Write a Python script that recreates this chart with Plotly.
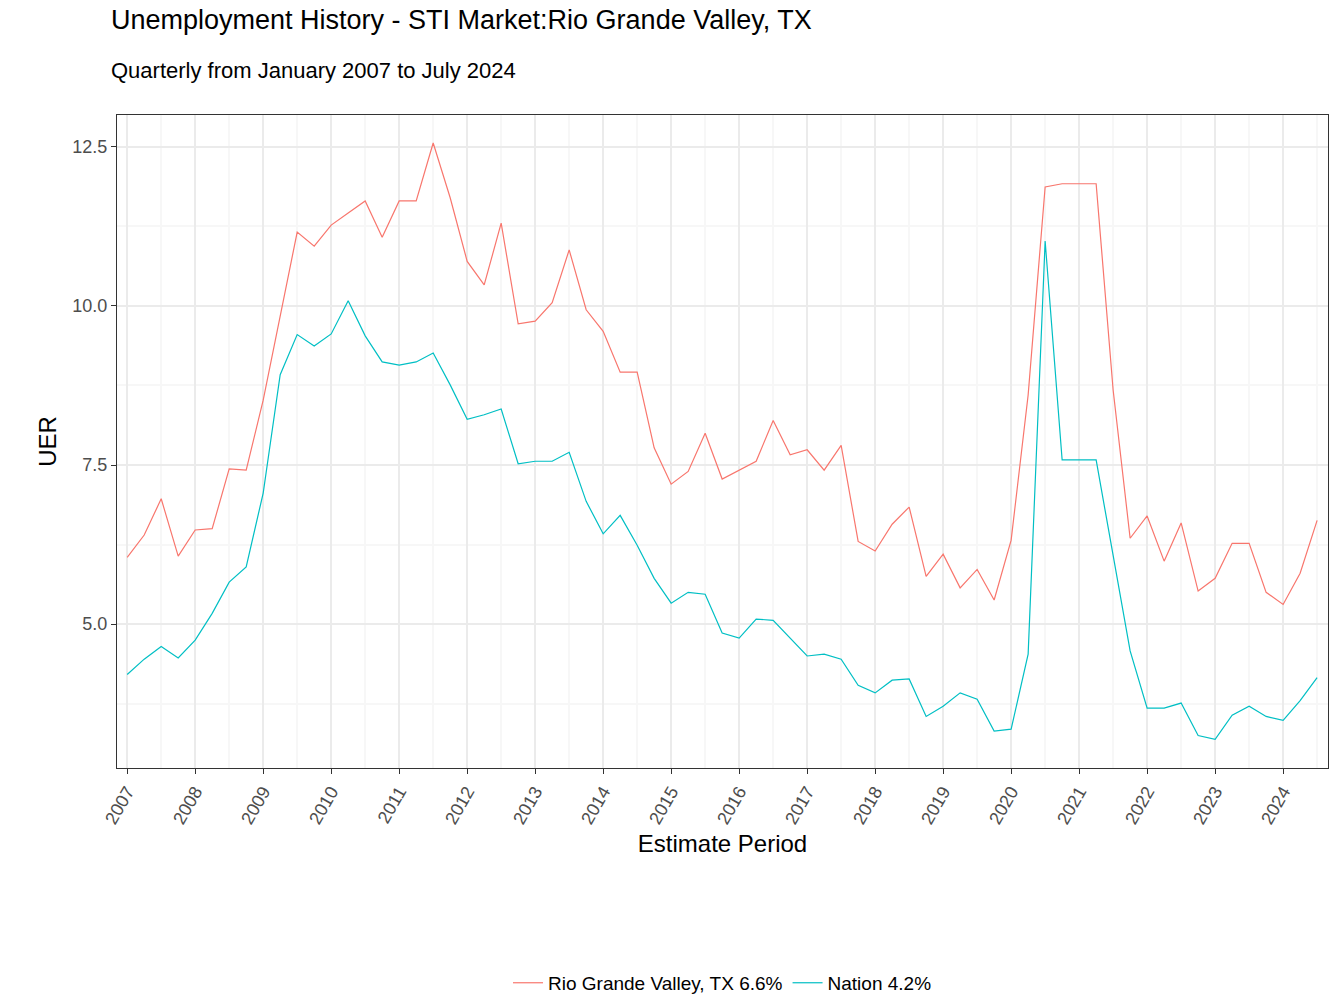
import plotly.graph_objects as go

years = [2007 + i * 0.25 for i in range(71)]
rgv = [6.05,6.4,6.97,6.07,6.48,6.5,7.44,7.42,8.52,9.86,11.16,10.94,11.27,11.46,11.65,11.08,
       11.65,11.65,12.56,11.7,10.7,10.33,11.3,9.72,9.76,10.05,10.88,9.94,9.6,8.96,8.96,7.77,
       7.2,7.4,8.0,7.28,7.42,7.56,8.2,7.66,7.74,7.42,7.81,6.3,6.15,6.57,6.84,5.75,6.1,5.57,
       5.86,5.38,6.32,8.6,11.87,11.92,11.92,11.92,8.68,6.35,6.7,5.99,6.59,5.52,5.72,6.27,
       6.27,5.5,5.31,5.8,6.63]
nation = [4.21,4.45,4.65,4.47,4.75,5.17,5.66,5.9,7.06,8.92,9.55,9.37,9.56,10.08,9.53,9.12,
          9.07,9.12,9.26,8.76,8.22,8.29,8.38,7.52,7.56,7.56,7.7,6.93,6.42,6.71,6.24,5.72,
          5.33,5.5,5.47,4.86,4.78,5.08,5.06,4.78,4.5,4.53,4.45,4.04,3.92,4.12,4.14,3.55,3.71,
          3.92,3.82,3.32,3.35,4.53,11.02,7.58,7.58,7.58,6.08,4.58,3.68,3.68,3.76,3.25,3.19,
          3.57,3.71,3.55,3.49,3.8,4.16]
tick_years = list(range(2007, 2025))

fig = go.Figure()
fig.add_trace(go.Scatter(x=years, y=rgv, mode="lines", name="Rio Grande Valley, TX 6.6%",
                         line=dict(color="#F8766D", width=1.2)))
fig.add_trace(go.Scatter(x=years, y=nation, mode="lines", name="Nation 4.2%",
                         line=dict(color="#00BFC4", width=1.2)))

fig.add_annotation(text="Unemployment History - STI Market:Rio Grande Valley, TX", xref="paper", yref="paper",
                   x=0, y=1, xshift=-8, yshift=95, xanchor="left", yanchor="middle", showarrow=False,
                   font=dict(size=27, color="black"))
fig.add_annotation(text="Quarterly from January 2007 to July 2024", xref="paper", yref="paper",
                   x=0, y=1, xshift=-8, yshift=45, xanchor="left", yanchor="middle", showarrow=False,
                   font=dict(size=22, color="black"))

fig.update_layout(
    width=1344, height=1008, plot_bgcolor="white", paper_bgcolor="white",
    font=dict(family="Liberation Sans, Arial", color="black"),
    margin=dict(l=109, r=24, t=107, b=248, autoexpand=False),
    legend=dict(orientation="h", x=0.5, xanchor="center", y=-0.3, yanchor="top",
                font=dict(size=19)),
    xaxis=dict(range=[2006.85, 2024.66], tickvals=tick_years, ticktext=[str(y) for y in tick_years],
               tickangle=-60, showgrid=True, gridcolor="#EBEBEB", gridwidth=1.5,
               minor=dict(tickvals=[y + 0.5 for y in range(2006, 2025)], showgrid=True, gridcolor="#F7F7F7"),
               showline=True, linecolor="#333333", mirror=True, ticks="outside", ticklen=5,
               tickcolor="#333333", tickfont=dict(size=18, color="#4D4D4D"),
               title=dict(text="Estimate Period", font=dict(size=24), standoff=8), zeroline=False),
    yaxis=dict(range=[2.74, 13.0], tickvals=[5.0, 7.5, 10.0, 12.5], ticktext=["5.0", "7.5", "10.0", "12.5"],
               showgrid=True, gridcolor="#EBEBEB", gridwidth=1.5,
               minor=dict(tickvals=[3.75, 6.25, 8.75, 11.25], showgrid=True, gridcolor="#F7F7F7"),
               showline=True, linecolor="#333333", mirror=True, ticks="outside", ticklen=5,
               tickcolor="#333333", tickfont=dict(size=18, color="#4D4D4D"),
               title=dict(text="UER", font=dict(size=24), standoff=8), zeroline=False),
)
fig.write_html("out.html")
